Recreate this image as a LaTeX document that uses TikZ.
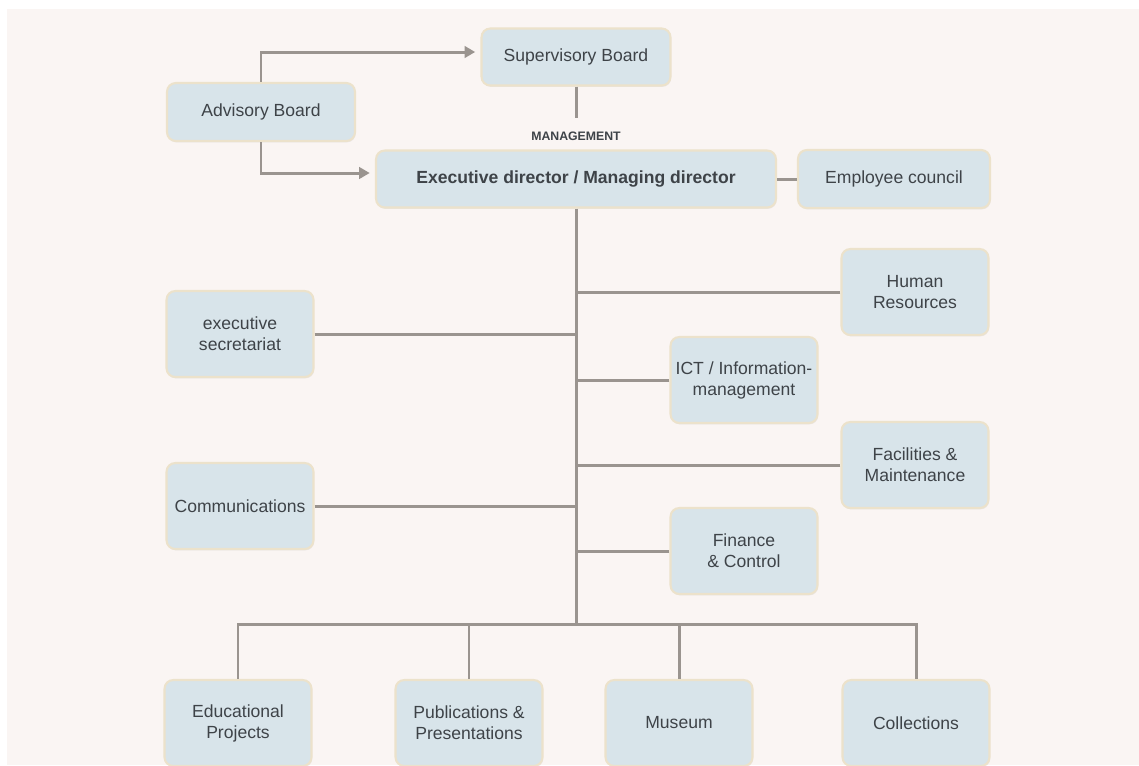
\documentclass[tikz,border=0pt]{standalone}
\usepackage{fontspec}
\setmainfont{Liberation Sans}
\usetikzlibrary{arrows.meta,shadows}
\definecolor{paper}{HTML}{FAF5F3}
\definecolor{boxfill}{HTML}{D8E4EA}
\definecolor{boxedge}{HTML}{ECE2CB}
\definecolor{linegray}{HTML}{9A948F}
\definecolor{txt}{HTML}{3E4348}
\tikzset{
  unit/.style={draw=boxedge, line width=1.2pt, fill=boxfill, rounded corners=5pt,
    align=center, text=txt, inner sep=2pt, font=\fontsize{10}{12}\selectfont,
    drop shadow={shadow xshift=0.4pt, shadow yshift=-0.8pt, opacity=0.12, fill=black!50}},
  side/.style={unit, minimum width=2.94cm, minimum height=1.72cm},
  link/.style={draw=linegray, line width=1.7pt},
  arr/.style={link, -{Triangle[length=6pt,width=6.5pt]}, shorten >=3pt},
}
\begin{document}
\begin{tikzpicture}[x=0.02cm,y=-0.02cm]
    \clip (0,0) rectangle (1139,765);
    \fill [white] (0,0) rectangle (1139,765);
    \fill [paper] (7,9) rectangle (1139,765);
    % board and management
    \node [unit, minimum width=3.78cm, minimum height=1.14cm] (sup) at (576,57) {Supervisory Board};
    \node [unit, minimum width=3.76cm, minimum height=1.16cm] (adv) at (261,112) {Advisory Board};
    \node [font=\fontsize{7}{8}\selectfont\bfseries, text=txt] (mgmt) at (576,136) {MANAGEMENT};
    \node [unit, font=\fontsize{10}{12}\selectfont\bfseries, minimum width=8cm, minimum height=1.14cm] (exec) at (576,179) {Executive director / Managing director};
    \node [unit, minimum width=3.84cm, minimum height=1.16cm] (emp) at (894,179) {Employee council};
    % staff departments
    \node [side] (hr) at (915,292) {Human\\Resources};
    \node [side] (sec) at (240,334) {executive\\secretariat};
    \node [side] (ict) at (744,380) {ICT / Information-\\management};
    \node [side] (fac) at (915,465) {Facilities \&\\Maintenance};
    \node [side] (com) at (240,506) {Communications};
    \node [side] (fin) at (744,551) {Finance\\\& Control};
    % line departments
    \node [side] (edu) at (238,723) {Educational\\Projects};
    \node [side] (pub) at (469,723) {Publications \&\\Presentations};
    \node [side] (mus) at (679,723) {Museum};
    \node [side] (col) at (916,723) {Collections};
    \coordinate (bus) at (576,624);
    % connectors
    \draw [arr] (adv.north) |- ([yshift=0.1cm]sup.west);
    \draw [arr] (adv.south) |- ([yshift=0.12cm]exec.west);
    \draw [link] (sup.south) -- ([yshift=4pt]mgmt.north);
    \draw [link] (exec.east) -- (emp.west);
    \draw [link] (exec.south) -- (bus);
    \draw [link] (hr.west) -- (hr.west -| bus);
    \draw [link] (sec.east) -- (sec.east -| bus);
    \draw [link] (ict.west) -- (ict.west -| bus);
    \draw [link] (fac.west) -- (fac.west -| bus);
    \draw [link] (com.east) -- (com.east -| bus);
    \draw [link] (fin.west) -- (fin.west -| bus);
    \draw [link] (edu.north) |- (col.north |- bus) -- (col.north);
    \draw [link] (pub.north) -- (pub.north |- bus);
    \draw [link] (mus.north) -- (mus.north |- bus);
\end{tikzpicture}
\end{document}
